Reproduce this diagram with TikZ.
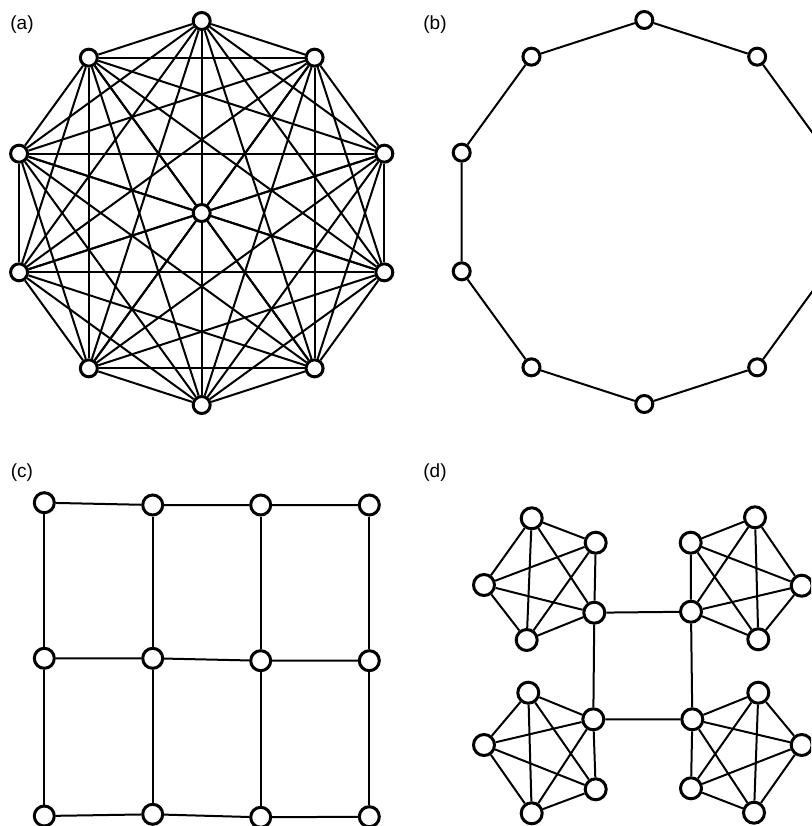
\documentclass[tikz,border=0pt]{standalone}
\usepackage{fontspec}
\setsansfont{Liberation Sans}
\usetikzlibrary{backgrounds}
\tikzset{
  vertex/.style={circle, draw=black, line width=3pt, fill=white, minimum size=17pt, inner sep=0pt},
  bigvertex/.style={vertex, minimum size=20pt},
  link/.style={draw=black, line width=2pt},
  panel/.style={font=\sffamily\fontsize{19}{22}\selectfont}
}

\begin{document}
\begin{tikzpicture}[x=1pt, y=-1pt]
\useasboundingbox (0,0) rectangle (811,826);
\clip (0,0) rectangle (811,826);
% panel labels
\node[panel] (la) at (22,25) {(a)};
\node[panel] (lb) at (435,25) {(b)};
\node[panel] (lc) at (22,473) {(c)};
\node[panel] (ld) at (435,473) {(d)};
% (a) complete graph
\foreach \i in {0,...,9}
  \node[vertex] (a\i) at ({201.7+192*cos(90-36*\i)},{213-192*sin(90-36*\i)}) {};
\node[vertex] (ac) at (201.7,213) {};
% (b) ring
\foreach \i in {0,...,9}
  \node[vertex] (b\i) at ({644.3+192*cos(90-36*\i)},{212-192*sin(90-36*\i)}) {};
% (c) lattice
\node[bigvertex] (c11) at (44.3,502.7) {};
\node[bigvertex] (c12) at (152.7,505) {};
\node[bigvertex] (c13) at (260.7,505) {};
\node[bigvertex] (c14) at (369.3,505) {};
\node[bigvertex] (c21) at (44.3,658.3) {};
\node[bigvertex] (c22) at (152.7,658.3) {};
\node[bigvertex] (c23) at (260.7,660.7) {};
\node[bigvertex] (c24) at (369.3,660.7) {};
\node[bigvertex] (c31) at (44.3,816) {};
\node[bigvertex] (c32) at (152.7,814.3) {};
\node[bigvertex] (c33) at (260.7,817.3) {};
\node[bigvertex] (c34) at (369.3,816.7) {};
% (d) four modules
\foreach \n/\x/\y in {tl1/531.7/518.3, tl2/595.7/542.7, tl3/484/585, tl4/594.3/612.7, tl5/526.7/640,
                      tr1/755/517.3, tr2/690.7/542.7, tr3/801.7/585.7, tr4/691/611.7, tr5/758.3/639.3,
                      bl1/528.3/692.7, bl2/593.3/719.3, bl3/484/745, bl4/595.7/789.3, bl5/531.7/813.3,
                      br1/758.3/692.7, br2/692.3/719.3, br3/801.7/745, br4/691/788.3, br5/754/812.7}
  \node[bigvertex, minimum size=21pt] (\n) at (\x,\y) {};

\begin{scope}[on background layer]
\foreach \i in {0,...,9} {
  \draw[link] (ac) -- (a\i);
  \foreach \j in {0,...,9} {
    \ifnum\i<\j \draw[link] (a\i) -- (a\j); \fi
  }
}
\draw[link] (b0) -- (b1) -- (b2) -- (b3) -- (b4) -- (b5) -- (b6) -- (b7) -- (b8) -- (b9) -- (b0);
\draw[link] (c11) -- (c12) -- (c13) -- (c14);
\draw[link] (c21) -- (c22) -- (c23) -- (c24);
\draw[link] (c31) -- (c32) -- (c33) -- (c34);
\draw[link] (c11) -- (c21) -- (c31);
\draw[link] (c12) -- (c22) -- (c32);
\draw[link] (c13) -- (c23) -- (c33);
\draw[link] (c14) -- (c24) -- (c34);
\foreach \k in {tl,tr,bl,br}
  \foreach \i in {1,...,5}
    \foreach \j in {1,...,5} {
      \ifnum\i<\j \draw[link] (\k\i) -- (\k\j); \fi
    }
\draw[link] (tl4) -- (tr4) -- (br2) -- (bl2) -- (tl4);
\end{scope}
\end{tikzpicture}
\end{document}
